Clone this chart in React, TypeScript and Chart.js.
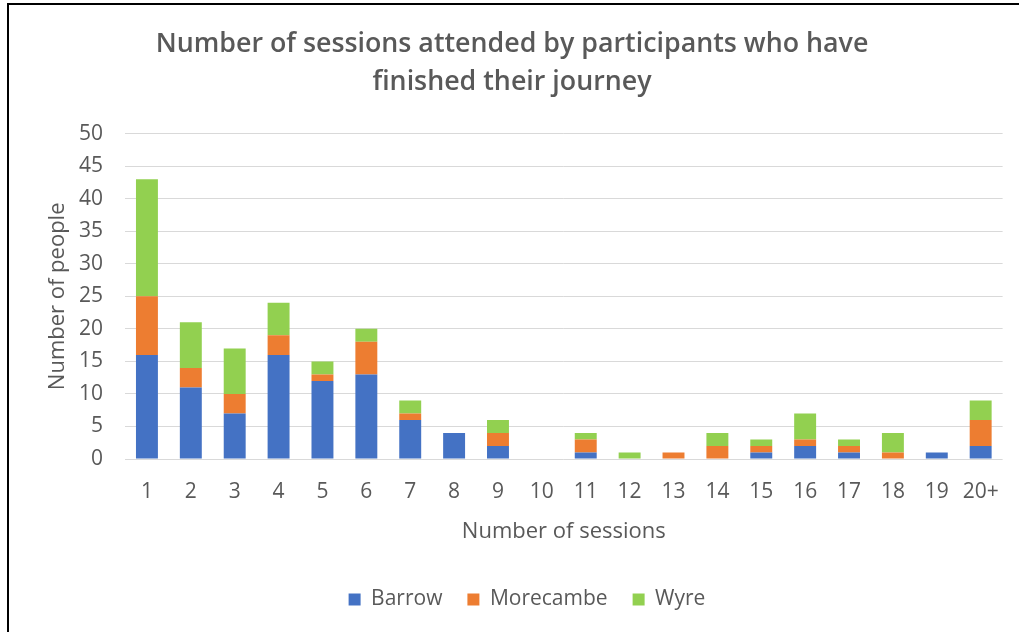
import React, { useEffect, useRef } from 'react';
import { Chart, registerables } from 'chart.js';

Chart.register(...registerables);

const categories = ['1', '2', '3', '4', '5', '6', '7', '8', '9', '10', '11', '12', '13', '14', '15', '16', '17', '18', '19', '20+'];
const barrow = [16, 11, 7, 16, 12, 13, 6, 4, 2, 0, 1, 0, 0, 0, 1, 2, 1, 0, 1, 2];
const morecambe = [9, 3, 3, 3, 1, 5, 1, 0, 2, 0, 2, 0, 1, 2, 1, 1, 1, 1, 0, 4];
const wyre = [18, 7, 7, 5, 2, 2, 2, 0, 2, 0, 1, 1, 0, 2, 1, 4, 1, 3, 0, 3];
const seriesNames = ['Barrow', 'Morecambe', 'Wyre'];
const seriesColors = ['#4472C4', '#ED7D31', '#92D050'];
const yMin = 0;
const yMax = 50;
const yStep = 5;
const titleLines = ['Number of sessions attended by participants who have', 'finished their journey'];
const xTitle = 'Number of sessions';
const yTitle = 'Number of people';

const FONT = "'Open Sans', 'Noto Sans', sans-serif";
const GREY = '#595959';

const shiftBoxes = {
  id: 'shiftBoxes',
  afterLayout(chart: any) {
    if (chart.legend) {
      chart.legend.left += 24;
      chart.legend.right += 24;
    }
    if (chart.titleBlock) {
      chart.titleBlock.left += 9;
      chart.titleBlock.right += 9;
    }
  },
};

export default function App() {
  const ref = useRef<HTMLCanvasElement | null>(null);
  useEffect(() => {
    if (!ref.current) return;
    const chart = new Chart(ref.current, {
      type: 'bar',
      data: {
        labels: categories,
        datasets: [barrow, morecambe, wyre].map((d, i) => ({
          label: seriesNames[i],
          data: d,
          backgroundColor: seriesColors[i],
          borderWidth: 0,
          barPercentage: 0.5,
          categoryPercentage: 1,
        })),
      },
      plugins: [shiftBoxes],
      options: {
        responsive: true,
        maintainAspectRatio: false,
        animation: false,
        layout: { padding: { left: 0, right: 13, top: 0, bottom: 12 } },
        plugins: {
          title: {
            display: true,
            text: titleLines,
            color: GREY,
            font: { family: FONT, size: 26.8, weight: '600', lineHeight: 1.43 },
            padding: { top: 25, bottom: 32 },
          },
          legend: {
            position: 'bottom',
            labels: {
              color: GREY,
              font: { family: FONT, size: 21 },
              boxWidth: 12,
              boxHeight: 12,
              padding: 25,
            },
          },
          tooltip: { enabled: false },
        },
        scales: {
          x: {
            stacked: true,
            grid: { display: false, drawTicks: false },
            border: { display: false },
            ticks: { color: GREY, font: { family: FONT, size: 21 }, padding: 20, maxRotation: 0, autoSkip: false },
            title: { display: true, text: xTitle, color: GREY, font: { family: FONT, size: 22 }, padding: { top: 10, bottom: 19 } },
            afterFit: (s: any) => { s.height = 105; },
          },
          y: {
            stacked: true,
            min: yMin,
            max: yMax,
            ticks: { stepSize: yStep, color: GREY, font: { family: FONT, size: 21 }, padding: 22 },
            grid: { color: '#D9D9D9', drawTicks: false, lineWidth: 1 },
            border: { display: false },
            title: { display: true, text: yTitle, color: GREY, font: { family: FONT, size: 22 }, padding: { top: 45, bottom: 0 } },
            afterFit: (s: any) => { s.width = 125; },
          },
        },
      },
    });
    return () => chart.destroy();
  }, []);
  return (
    <div style={{ position: 'fixed', left: 0, top: 0, width: 1019, height: 632, background: '#fff' }}>
      <canvas ref={ref} />
      <div style={{ position: 'absolute', left: 7, top: 3, right: 0, bottom: 0, borderLeft: '2px solid #000', borderTop: '2px solid #000', pointerEvents: 'none' }} />
    </div>
  );
}
